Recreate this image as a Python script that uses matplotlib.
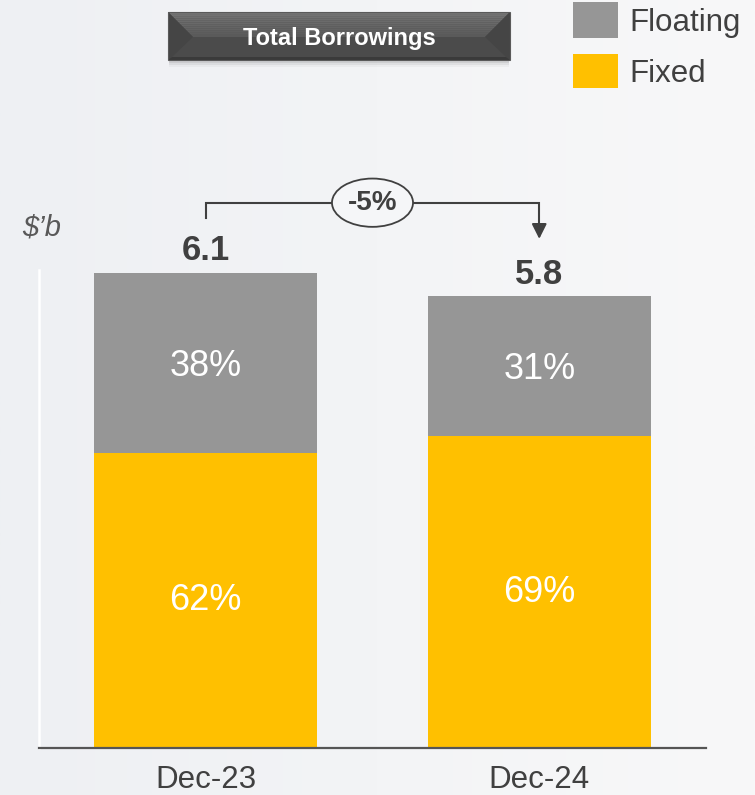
import matplotlib
matplotlib.use("Agg")
import matplotlib.pyplot as plt
import numpy as np
from matplotlib.patches import Rectangle, Polygon, Ellipse
from matplotlib.colors import LinearSegmentedColormap

# ---- data ----
categories = ["Dec-23", "Dec-24"]
totals = [6.1, 5.8]
fixed_pct = [62, 69]
floating_pct = [38, 31]
change_label = "-5%"
series_names = ["Floating", "Fixed"]
title_text = "Total Borrowings"
unit_label = "$\u2019b"

GRAY = "#969696"
GOLD = "#FFC000"
DARK = "#404040"

plt.rcParams['font.family'] = ['Liberation Sans', 'DejaVu Sans']

W, H = 755, 795
fig = plt.figure(figsize=(W / 100, H / 100), dpi=100)

# background gradient
bg = fig.add_axes([0, 0, 1, 1], zorder=-10)
grad = np.linspace(0, 1, 256).reshape(1, -1)
cmap = LinearSegmentedColormap.from_list("bg", ["#eef0f3", "#f8f8f9"])
bg.imshow(grad, aspect="auto", cmap=cmap, extent=[0, 1, 0, 1])
bg.set_axis_off()

def fx(px):
    return px / W

def fy(py):
    return 1 - py / H

# main axes
ax_left, ax_right, ax_base, ax_top = 39, 706, 748, 100
ax = fig.add_axes([fx(ax_left), fy(ax_base), fx(ax_right - ax_left), (ax_base - ax_top) / H])
ax.set_facecolor("none")
px_per_unit = 77.9
ax.set_ylim(0, (ax_base - ax_top) / px_per_unit)
ax.set_xlim(-0.5, 1.5)

x = np.arange(len(categories))
fixed_vals = [t * p / (p + q) for t, p, q in zip(totals, fixed_pct, floating_pct)]
float_vals = [t - f for t, f in zip(totals, fixed_vals)]
width = 0.669
ax.bar(x, fixed_vals, width, color=GOLD, label=series_names[1], zorder=2)
ax.bar(x, float_vals, width, bottom=fixed_vals, color=GRAY, label=series_names[0], zorder=2)

for xi, fv, flv, fp, flp, t in zip(x, fixed_vals, float_vals, fixed_pct, floating_pct, totals):
    ax.text(xi, fv / 2, f"{fp}%", ha="center", va="center", color="white", fontsize=26, zorder=3)
    ax.text(xi, fv + flv / 2 - 0.04, f"{flp}%", ha="center", va="center", color="white", fontsize=26, zorder=3)
    ax.annotate(f"{t:.1f}", (xi, t), xytext=(0, 9), textcoords="offset points",
                ha="center", va="baseline", fontsize=25, fontweight="bold", color=DARK)

# spines
for s in ["top", "right"]:
    ax.spines[s].set_visible(False)
ax.spines["bottom"].set_color("#555555")
ax.spines["bottom"].set_linewidth(1.6)
ax.spines["left"].set_color("white")
ax.spines["left"].set_linewidth(1.8)
ax.spines["left"].set_bounds(0, max(totals) + 0.03)
ax.set_yticks([])
ax.set_xticks(x)
ax.set_xticklabels(categories, fontsize=22.5, color=DARK)
ax.tick_params(axis="x", length=0, pad=12)

# bracket with change
y_h = max(totals) + 0.9
ax.plot([x[0], x[0], x[1], x[1]], [totals[0] + 0.70, y_h, y_h, totals[1] + 0.90],
        color=DARK, lw=1.5, zorder=4, solid_joinstyle="miter")
ax.annotate("", xy=(x[1], totals[1] + 0.70), xytext=(x[1], totals[1] + 0.95),
            arrowprops=dict(arrowstyle="-|>,head_length=0.9,head_width=0.45", color=DARK, lw=1.5))
ell = Ellipse((0.5, y_h), 0.243, 0.62, facecolor="#f5f6f8", edgecolor=DARK, lw=1.3, zorder=5)
ax.add_patch(ell)
ax.text(0.5, y_h, change_label, ha="center", va="center", fontsize=20, fontweight="bold",
        color=DARK, zorder=6)

# unit label
fig.text(fx(42), fy(228), unit_label, ha="center", va="center", fontsize=21,
         style="italic", color="#595959")

# title box (bevelled)
x0, x1, y0, y1 = 168, 510, 12, 60
ym = 37
bv = 25
# shadow
for i, a in enumerate([0.10, 0.07, 0.05, 0.03]):
    d = 1 + i * 2
    fig.patches.append(Rectangle((fx(x0 + 1), fy(y1 + d)), fx(x1 - x0 - 2), (y1 - y0) / H,
                                 transform=fig.transFigure, facecolor="black", alpha=a,
                                 edgecolor="none", zorder=1))
def poly(pts, color, z=2):
    fig.patches.append(Polygon([(fx(px), fy(py)) for px, py in pts], closed=True,
                               transform=fig.transFigure, facecolor=color, edgecolor="none", zorder=z))
poly([(x0, y0), (x1, y0), (x1, y1), (x0, y1)], "#4b4b4b")
# gloss on top half (gradient via strips)
n = 12
for i in range(n):
    ya = y0 + (ym - y0) * i / n
    yb = y0 + (ym - y0) * (i + 1) / n
    xa = x0 + bv * i / n
    xb = x0 + bv * (i + 1) / n
    c = 0x74 - int((0x74 - 0x5a) * i / (n - 1))
    col = "#%02x%02x%02x" % (c, c, c)
    poly([(xa, ya), (x1 - (xa - x0), ya), (x1 - (xb - x0), yb), (xb, yb)], col, z=3)
# side bevel triangles
poly([(x0, y0), (x0 + bv, ym), (x0 + 4, y1 - 3), (x0, y1)], "#454545", z=3)
poly([(x1, y0), (x1 - bv, ym), (x1 - 4, y1 - 3), (x1, y1)], "#454545", z=3)
poly([(x0, y1), (x0 + 4, y1 - 3), (x1 - 4, y1 - 3), (x1, y1)], "#3a3a3a", z=3)
# thin outline
fig.patches.append(Rectangle((fx(x0), fy(y1)), fx(x1 - x0), (y1 - y0) / H,
                             transform=fig.transFigure, facecolor="none",
                             edgecolor="#5a5a5a", lw=0.8, zorder=4))
fig.text(fx((x0 + x1) / 2), fy(38), title_text, ha="center", va="center", fontsize=17,
         fontweight="bold", color="white", zorder=5)

# legend
leg_items = [(series_names[0], GRAY, 2, 38), (series_names[1], GOLD, 54, 88)]
for name, col, ya, yb in leg_items:
    fig.patches.append(Rectangle((fx(573), fy(yb)), fx(45), (yb - ya) / H,
                                 transform=fig.transFigure, facecolor=col, edgecolor="none"))
    fig.text(fx(629), fy((ya + yb) / 2 + 3), name, ha="left", va="center", fontsize=22.5, color=DARK)

fig.savefig("out.png", dpi=100)
